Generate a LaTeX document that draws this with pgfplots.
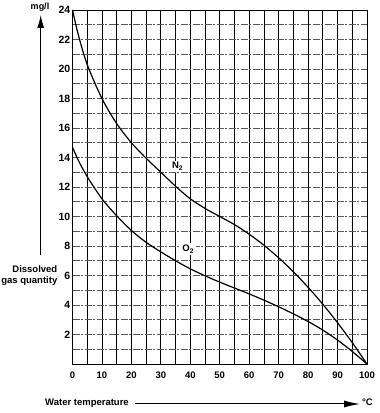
\documentclass[border=0pt]{standalone}
\usepackage{pgfplots}
\pgfplotsset{compat=1.18}
\usepackage{fontspec}
\setmainfont{Liberation Sans}
\usetikzlibrary{arrows.meta}
\begin{document}
\begin{tikzpicture}
\useasboundingbox (0,0) rectangle (380pt,413pt);
\begin{axis}[
  at={(72.5pt,49pt)}, anchor=south west,
  scale only axis, width=294.5pt, height=354pt,
  xmin=0, xmax=100, ymin=0, ymax=24,
  xtick={0,10,...,100}, minor xtick={5,15,...,95},
  ytick={2,4,...,24}, minor ytick={1,3,...,23},
  grid=both,
  major tick length=0pt, minor tick length=0pt,
  major x grid style={black, line width=0.8pt},
  minor x grid style={black, line width=0.8pt},
  major y grid style={black!65, line width=0.8pt, dash pattern=on 7pt off 1.5pt on 2pt off 1.5pt},
  minor y grid style={black!65, line width=0.8pt, dash pattern=on 7pt off 1.5pt on 2pt off 1.5pt},
  axis line style={black, line width=1pt},
  /pgf/number format/assume math mode=true,
  xticklabel style={font=\fontsize{9.5}{11}\selectfont\bfseries, inner sep=0pt, yshift=-8pt},
  yticklabel style={font=\fontsize{10.5}{12}\selectfont\bfseries, inner sep=0pt, xshift=-2pt},
  clip=false,
]
\addplot[black, line width=1.2pt, smooth] coordinates {
 (0,24) (2,22.3) (5,20.3) (10,18.0) (15,16.3) (20,15.0) (25,13.95) (30,13.0)
 (35,12.05) (40,11.2) (45,10.55) (50,10.0) (55,9.45) (60,8.8) (65,8.05)
 (70,7.2) (75,6.25) (80,5.2) (85,4.05) (90,2.8) (95,1.45) (100,0)
};
\addplot[black, line width=1.2pt, smooth] coordinates {
 (0,14.7) (2,13.8) (5,12.7) (10,11.2) (15,10.05) (20,9.05) (25,8.25) (30,7.6)
 (35,7.0) (40,6.45) (45,5.98) (50,5.55) (55,5.15) (60,4.75) (65,4.33)
 (70,3.88) (75,3.4) (80,2.88) (85,2.3) (90,1.62) (95,0.85) (100,0)
};
\node[fill=white, inner sep=1.5pt, font=\fontsize{9.5}{11}\selectfont\bfseries] at (axis cs:35.7,13.4) {N\textsubscript{2}};
\node[fill=white, inner sep=1.5pt, font=\fontsize{9.5}{11}\selectfont\bfseries] at (axis cs:39.3,7.8) {O\textsubscript{2}};
\end{axis}
\draw[line width=1pt, -{Latex[length=13pt,width=7pt]}] (40.7pt,158pt) -- (40.7pt,398pt);
\draw[line width=1pt, -{Latex[length=16pt,width=7pt]}] (135pt,9pt) -- (360pt,9pt);
\node[font=\fontsize{9}{10}\selectfont\bfseries] at (40pt,406pt) {mg/l};
\node[anchor=east, align=right, inner sep=0pt, font=\fontsize{9.5}{11}\selectfont\bfseries] at (57.5pt,137pt) {Dissolved\\gas quantity};
\node[anchor=west, inner sep=0pt, font=\fontsize{9.5}{11}\selectfont\bfseries] at (45pt,9.5pt) {Water temperature};
\node[font=\fontsize{9.5}{11}\selectfont\bfseries] at (367.5pt,11pt) {°C};
\end{tikzpicture}
\end{document}
